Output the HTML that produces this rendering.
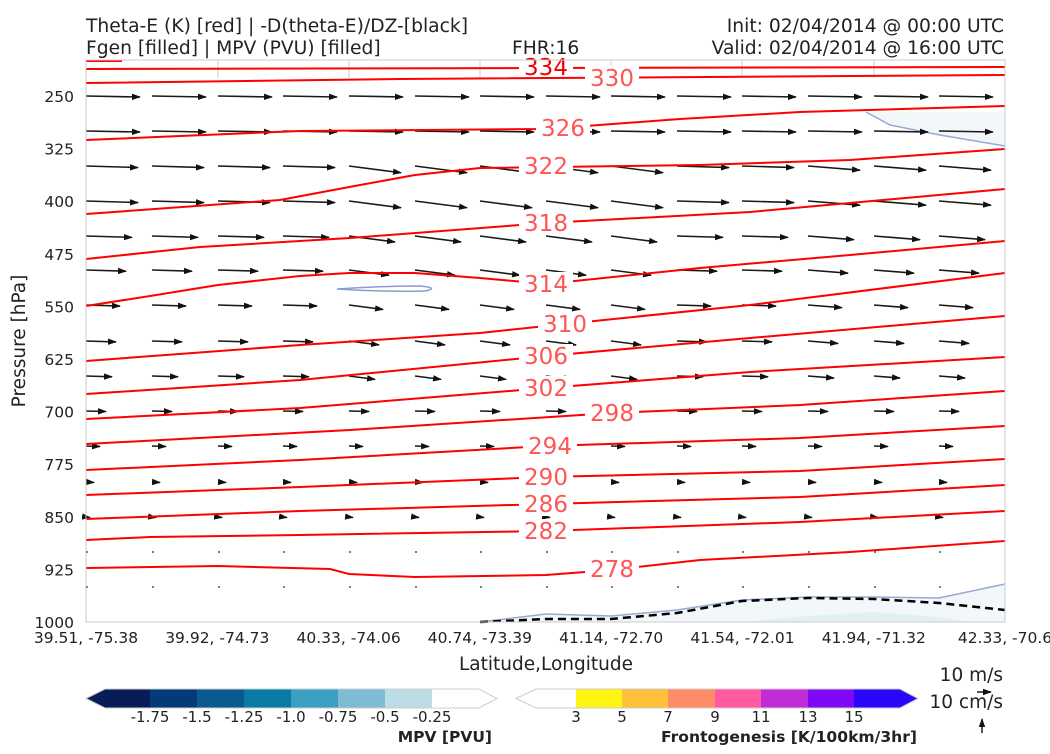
<!DOCTYPE html>
<html><head><meta charset="utf-8"><style>
body{margin:0;background:#fff;width:1050px;height:750px;overflow:hidden;font-family:"DejaVu Sans","Liberation Sans",sans-serif}
svg text{font-family:"DejaVu Sans","Liberation Sans",sans-serif}
</style></head><body>
<svg id="s" width="1050" height="750" xmlns="http://www.w3.org/2000/svg">
<defs><marker id="ah" markerWidth="9" markerHeight="8" refX="8" refY="4" orient="auto" markerUnits="userSpaceOnUse"><path d="M0,0.8 L9,4 L0,7.2 z" fill="#111"/></marker></defs>
<text x="86" y="32" font-size="18.7" fill="#222">Theta-E (K) [red] | -D(theta-E)/DZ-[black]</text>
<text x="86" y="54" font-size="18.7" fill="#222">Fgen [filled] | MPV (PVU) [filled]</text>
<text x="512" y="54" font-size="18.7" fill="#222">FHR:16</text>
<text x="1004" y="32" font-size="18.7" fill="#222" text-anchor="end">Init: 02/04/2014 @ 00:00 UTC</text>
<text x="1004" y="54" font-size="18.7" fill="#222" text-anchor="end">Valid: 02/04/2014 @ 16:00 UTC</text>
<g id="plot"></g>
<rect x="86" y="60" width="919" height="562" fill="none" stroke="#ccc" stroke-width="1"/>
<text transform="translate(25,341) rotate(-90)" font-size="18.5" fill="#222" text-anchor="middle">Pressure [hPa]</text>
<text x="546" y="670" font-size="18.5" fill="#222" text-anchor="middle">Latitude,Longitude</text>
<g id="cb"></g>
<text x="1003" y="681" font-size="18.5" fill="#222" text-anchor="end">10 m/s</text>
<text x="1003" y="708" font-size="18.5" fill="#222" text-anchor="end">10 cm/s</text>
<line x1="977" y1="692" x2="991" y2="692" stroke="#111" stroke-width="1.4" marker-end="url(#ah)"/>
<line x1="982" y1="733" x2="982" y2="719" stroke="#111" stroke-width="1.4" marker-end="url(#ah)"/>
</svg>
<script>
var NS="http://www.w3.org/2000/svg";
function el(p,t,a,txt){var e=document.createElementNS(NS,t);for(var k in a)e.setAttribute(k,a[k]);if(txt!==undefined)e.textContent=txt;p.appendChild(e);return e;}
var P=document.getElementById('plot'),C=document.getElementById('cb');
[218,349,480,611,742,874].forEach(function(x){el(P,'line',{x1:x,y1:60,x2:x,y2:78,stroke:'#ccc','stroke-width':1});});
el(P,'polygon',{points:"480,622 546,614 611,616 677,610 742,600 808,597 874,597 939,598 1005,584 1005,622",fill:'#f2f8f9'});
el(P,'polygon',{points:"742,622 808,616 874,612 939,617 970,622",fill:'#e2eff3'});
el(P,'polyline',{points:"480,622 546,614 611,616 677,610 742,600 808,597 874,597 939,598 1005,584",fill:'none',stroke:'#9aa8d4','stroke-width':1.5});
el(P,'polygon',{points:"866,112 890,125 940,135 1005,146 1005,112",fill:'#f2f8f9'});
el(P,'polyline',{points:"866,112 890,125 940,135 1005,146",fill:'none',stroke:'#9aa8d4','stroke-width':1.5});
el(P,'path',{d:"M337,289 Q380,286 420,286 Q440,288 425,291 Q380,292 337,289 z",fill:'none',stroke:'#8d9bd0','stroke-width':1.5});
el(P,'polyline',{points:"480,622 546,619 611,619 677,613 742,601 808,598 874,599 939,603 1005,610",fill:'none',stroke:'#000','stroke-width':2.5,'stroke-dasharray':'8,5'});
var cols=[86,152,218,283,349,415,480,546,611,677,742,808,874,939];
var rows=[96,131,166,201,236,270,305,341,376,411,446,482,517,552,587];
var lens=[54,54,52,52,46,40,34,30,26,20,14,8,4,1.5,1];
rows.forEach(function(y,ri){cols.forEach(function(x,ci){
 var L=lens[ri],dy=0.5;
 if(ri>=2&&ri<=8){ if(ci>=4&&ci<=8) dy=L*0.13; else if(ci>=11) dy=L*0.08; else dy=L*0.03;}
 if(ri<=1) dy=1;
 if(L<3){el(P,'circle',{cx:x+1,cy:y,r:0.9,fill:'#222'});return;}
 el(P,'line',{x1:x,y1:y,x2:x+L,y2:y+dy,stroke:'#1a1a1a','stroke-width':1.6,'marker-end':'url(#ah)'});
});});
var lines=[
 ["86,61 122,61",null],
 ["86,69 546,68 1005,67",[546,67,"334","#ee0000"]],
 ["86,83 400,79 1005,75",[612,78,"330","#ff5555"]],
 ["86,140 300,131 546,129 680,119 800,112 1005,106",[563,128,"326","#ff5555"]],
 ["86,214 280,200 360,185 415,175 480,168 700,165 850,160 1005,149",[546,166,"322","#ff5555"]],
 ["86,259 200,247 350,238 546,223 750,212 1005,189",[546,223,"318","#ff5555"]],
 ["86,306 150,296 218,285 300,276 349,273 415,273 480,278 546,284 700,268 850,255 1005,241",[546,284,"314","#ff5555"]],
 ["86,361 300,345 480,333 565,324 750,305 1005,273",[565,324,"310","#ff5555"]],
 ["86,394 300,380 546,356 750,338 1005,316",[546,356,"306","#ff5555"]],
 ["86,419 300,408 546,388 750,372 1005,357",[546,388,"302","#ff5555"]],
 ["86,444 350,430 612,413 800,405 1005,391",[612,413,"298","#ff5555"]],
 ["86,470 300,460 546,446 800,438 1005,426",[550,446,"294","#ff5555"]],
 ["86,495 300,487 546,477 800,471 1005,459",[546,477,"290","#ff5555"]],
 ["86,519 300,511 546,504 800,497 1005,485",[546,504,"286","#ff5555"]],
 ["86,540 150,537 300,535 546,531 800,522 1005,511",[546,531,"282","#ff5555"]],
 ["86,568 218,566 330,569 349,574 415,577 546,575 611,570 700,560 850,552 1005,541",[612,569,"278","#ff5555"]]
];
lines.forEach(function(l){
 el(P,'polyline',{points:l[0],fill:'none',stroke:'#ff0000','stroke-width':2});
 if(l[1]){var b=l[1];el(P,'rect',{x:b[0]-27,y:b[1]-12,width:54,height:24,fill:'#fff'});
 el(P,'text',{x:b[0],y:b[1]+8,'font-size':23,fill:b[3],'text-anchor':'middle'},b[2]);}
});
[250,325,400,475,550,625,700,775,850,925,1000].forEach(function(p){var y=96+(p-250)*0.7013;
 el(P,'text',{x:74,y:y+6,'font-size':15.5,fill:'#222','text-anchor':'end'},String(p));});
var xl=["39.51, -75.38","39.92, -74.73","40.33, -74.06","40.74, -73.39","41.14, -72.70","41.54, -72.01","41.94, -71.32","42.33, -70.6"];
xl.forEach(function(t,i){var x=86+i*131.3;el(P,'text',{x:i==7?1005:x,y:643,'font-size':15.5,fill:'#222','text-anchor':'middle'},t);});
var y0=689,h=19;
var mc=["#081d58","#053a78","#0a5a8f","#0a7ca4","#3a9fc0","#7fbbd4","#bcdde6","#ffffff"];
var mb=[105,150,197,244,291,338,385,432,479];
el(C,'polygon',{points:"86,698.5 105,689 105,708",fill:mc[0]});
for(var i=0;i<8;i++)el(C,'rect',{x:mb[i],y:y0,width:mb[i+1]-mb[i]+0.5,height:h,fill:mc[i]});
el(C,'polygon',{points:"479,689 497,698.5 479,708",fill:'#fff'});
el(C,'path',{d:"M86,698.5 L105,689 L479,689 L497,698.5 L479,708 L105,708 Z",fill:'none',stroke:'#ccc'});
["-1.75","-1.5","-1.25","-1.0","-0.75","-0.5","-0.25"].forEach(function(t,i){el(C,'text',{x:mb[i+1],y:722,'font-size':15,fill:'#222','text-anchor':'middle'},t);});
el(C,'text',{x:492,y:742,'font-size':15.5,'font-weight':'bold',fill:'#222','text-anchor':'end'},"MPV [PVU]");
var fc=["#ffffff","#fff514","#ffc13a","#ff8c69","#ff5aa0","#c02cd6","#8009f5","#2a06fb"];
var fb=[536,576,622,668,715,761,808,854,900];
for(var i=0;i<8;i++)el(C,'rect',{x:fb[i],y:y0,width:fb[i+1]-fb[i]+0.5,height:h,fill:fc[i]});
el(C,'polygon',{points:"900,689 918,698.5 900,708",fill:fc[7]});
el(C,'path',{d:"M516,698.5 L536,689 L900,689 L918,698.5 L900,708 L536,708 Z",fill:'none',stroke:'#ccc'});
["3","5","7","9","11","13","15"].forEach(function(t,i){el(C,'text',{x:fb[i+1],y:722,'font-size':15,fill:'#222','text-anchor':'middle'},t);});
el(C,'text',{x:917,y:742,'font-size':15.5,'font-weight':'bold',fill:'#222','text-anchor':'end',textLength:256,lengthAdjust:'spacingAndGlyphs'},"Frontogenesis [K/100km/3hr]");
</script>
</body></html>
